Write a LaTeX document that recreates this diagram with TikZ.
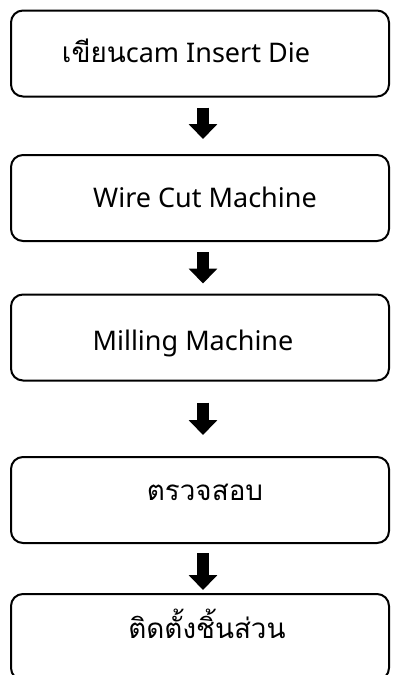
\documentclass[tikz,border=0pt]{standalone}
\usepackage{fontspec}
\setmainfont{Noto Sans}
\newfontfamily\thaifont[Script=Thai,Scale=1.03]{Loma}
\usetikzlibrary{arrows.meta}
\tikzset{
  stepbox/.style={draw, line width=2pt, rounded corners=12pt, minimum width=378pt, minimum height=86pt, inner sep=0pt},
  steptext/.style={anchor=base, inner sep=0pt, font=\fontsize{27}{31}\selectfont},
  flowarrow/.style={line width=12pt, -{Triangle[width=28pt,length=15pt]}}
}
\begin{document}
\begin{tikzpicture}[x=1pt,y=-1pt]
\useasboundingbox (0,0) rectangle (393,675);
\clip (0,0) rectangle (393,675);
% boxes
\node[stepbox] (b1) at (200,53.5) {};
\node[stepbox] (b2) at (200,198) {};
\node[stepbox] (b3) at (200,337.5) {};
\node[stepbox] (b4) at (200,500) {};
\node[stepbox] (b5) at (200,637) {};
% texts
\node[steptext] (t1) at (186,62) {{\thaifont เขียน}cam Insert Die};
\node[steptext] (t2) at (205,207) {Wire Cut Machine};
\node[steptext] (t3) at (193,350) {Milling Machine};
\node[steptext] (t4) at (205,500) {\thaifont ตรวจสอบ};
\node[steptext] (t5) at (207,638) {\thaifont ติดตั้งชิ้นส่วน};
% arrows
\foreach \a/\b/\s/\e in {b1/b2/10/15, b2/b3/10/10, b3/b4/21/21, b4/b5/9/3}{
  \draw[flowarrow, shorten <=\s pt, shorten >=\e pt] ([xshift=3pt]\a.south) -- ([xshift=3pt]\b.north);
}
\end{tikzpicture}
\end{document}
